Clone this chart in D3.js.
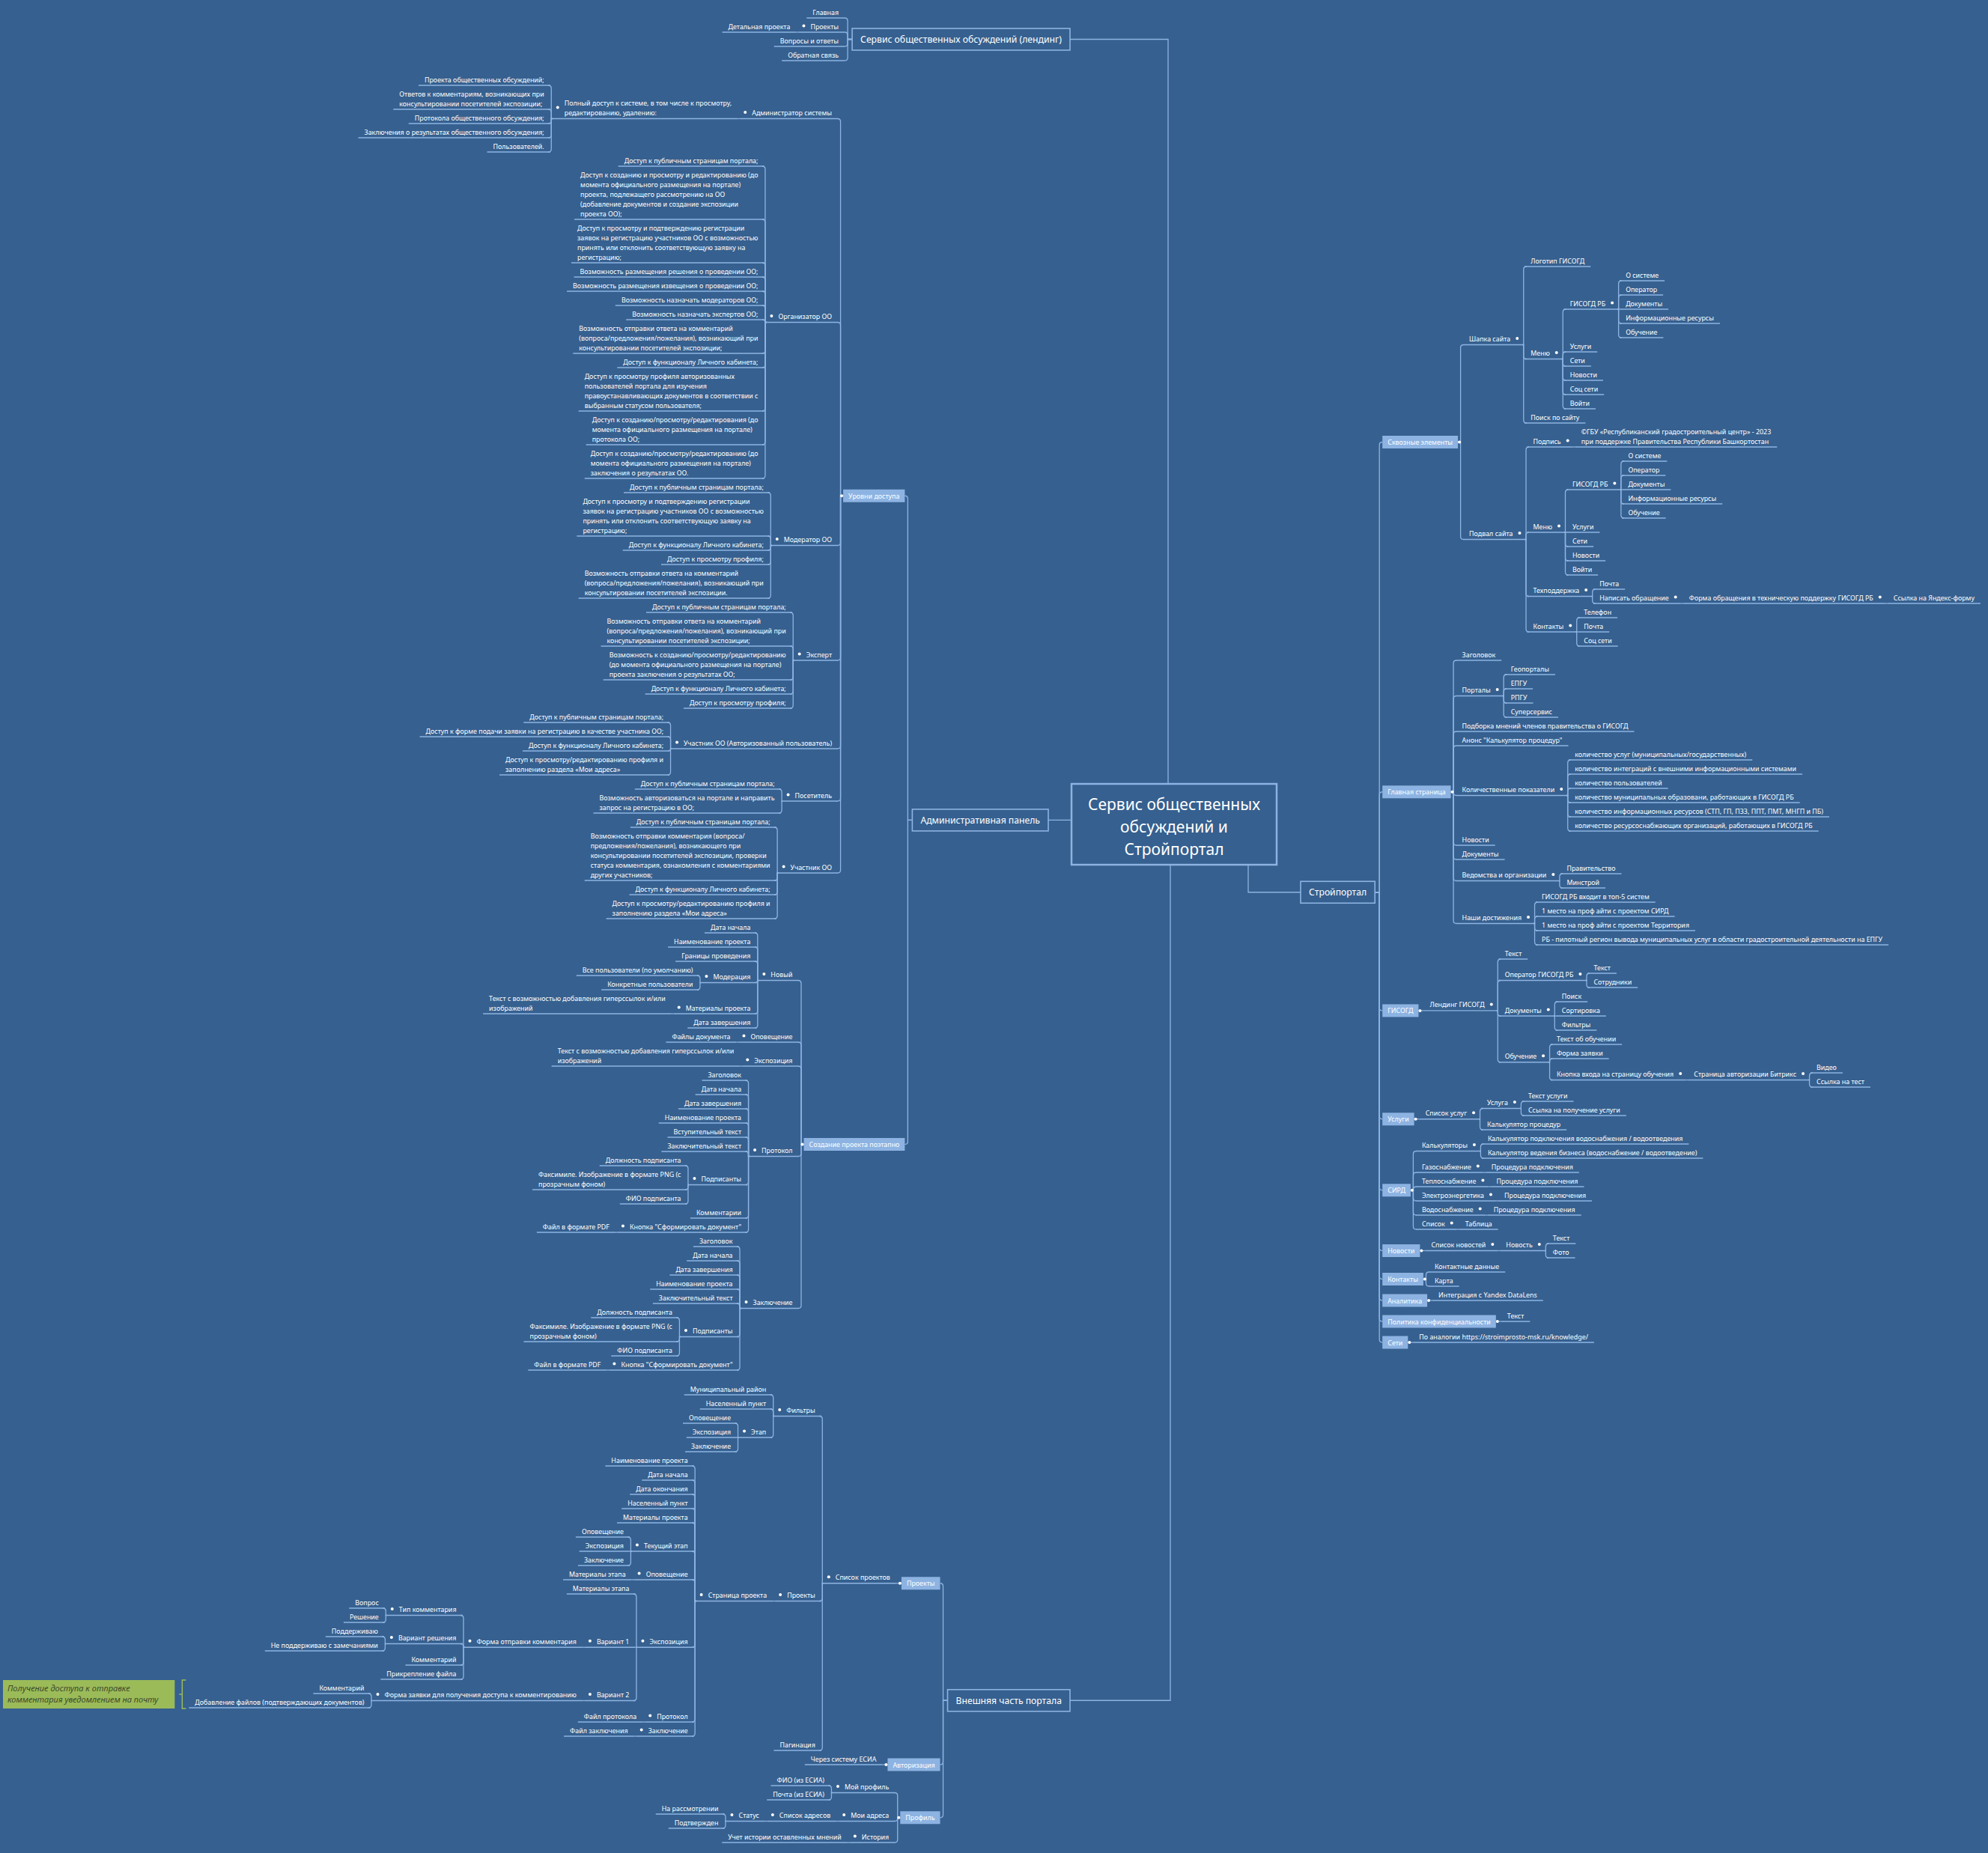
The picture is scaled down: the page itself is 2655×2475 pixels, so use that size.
<!DOCTYPE html>
<html>
<head>
<meta charset="utf-8">
<script src="https://cdn.jsdelivr.net/npm/d3@7"></script>
<style>body{margin:0;background:#36608f}</style>
</head>
<body>
<div id="container"></div>
<script>
let w = 2655;
let h = 2475;

// ---- data: the mind map branches ----
let rootTitle = ["Сервис общественных", "обсуждений и", "Стройпортал"];

let landing = ["Сервис общественных обсуждений (лендинг)", [
  ["Главная"],
  ["Проекты", [["Детальная проекта"]]],
  ["Вопросы и ответы"],
  ["Обратная связь"]
]];

let accessLevels = ["Уровни доступа", [
  ["Администратор системы", [
    ["Полный доступ к системе, в том числе к просмотру,\nредактированию, удалению:", [
      ["Проекта общественных обсуждений;"],
      ["Ответов к комментариям, возникающих при\nконсультировании посетителей экспозиции;"],
      ["Протокола общественного обсуждения;"],
      ["Заключения о результатах общественного обсуждения;"],
      ["Пользователей."]
    ]]
  ]],
  ["Организатор ОО", [
    ["Доступ к публичным страницам портала;"],
    ["Доступ к созданию и просмотру и редактированию (до\nмомента официального размещения на портале)\nпроекта, подлежащего рассмотрению на ОО\n(добавление документов и создание экспозиции\nпроекта ОО);"],
    ["Доступ к просмотру и подтверждению регистрации\nзаявок на регистрацию участников ОО с возможностью\nпринять или отклонить соответствующую заявку на\nрегистрацию;"],
    ["Возможность размещения решения о проведении ОО;"],
    ["Возможность размещения извещения о проведении ОО;"],
    ["Возможность назначать модераторов ОО;"],
    ["Возможность назначать экспертов ОО;"],
    ["Возможность отправки ответа на комментарий\n(вопроса/предложения/пожелания), возникающий при\nконсультировании посетителей экспозиции;"],
    ["Доступ к функционалу Личного кабинета;"],
    ["Доступ к просмотру профиля авторизованных\nпользователей портала для изучения\nправоустанавливающих документов в соответствии с\nвыбранным статусом пользователя;"],
    ["Доступ к созданию/просмотру/редактирования (до\nмомента официального размещения на портале)\nпротокола ОО;"],
    ["Доступ к созданию/просмотру/редактированию (до\nмомента официального размещения на портале)\nзаключения о результатах ОО."]
  ]],
  ["Модератор ОО", [
    ["Доступ к публичным страницам портала;"],
    ["Доступ к просмотру и подтверждению регистрации\nзаявок на регистрацию участников ОО с возможностью\nпринять или отклонить соответствующую заявку на\nрегистрацию;"],
    ["Доступ к функционалу Личного кабинета;"],
    ["Доступ к просмотру профиля;"],
    ["Возможность отправки ответа на комментарий\n(вопроса/предложения/пожелания), возникающий при\nконсультировании посетителей экспозиции."]
  ]],
  ["Эксперт", [
    ["Доступ к публичным страницам портала;"],
    ["Возможность отправки ответа на комментарий\n(вопроса/предложения/пожелания), возникающий при\nконсультировании посетителей экспозиции;"],
    ["Возможность к созданию/просмотру/редактированию\n(до момента официального размещения на портале)\nпроекта заключения о результатах ОО;"],
    ["Доступ к функционалу Личного кабинета;"],
    ["Доступ к просмотру профиля;"]
  ]],
  ["Участник ОО (Авторизованный пользователь)", [
    ["Доступ к публичным страницам портала;"],
    ["Доступ к форме подачи заявки на регистрацию в качестве участника ОО;"],
    ["Доступ к функционалу Личного кабинета;"],
    ["Доступ к просмотру/редактированию профиля и\nзаполнению раздела «Мои адреса»"]
  ]],
  ["Посетитель", [
    ["Доступ к публичным страницам портала;"],
    ["Возможность авторизоваться на портале и направить\nзапрос на регистрацию в ОО;"]
  ]],
  ["Участник ОО", [
    ["Доступ к публичным страницам портала;"],
    ["Возможность отправки комментария (вопроса/\nпредложения/пожелания), возникающего при\nконсультировании посетителей экспозиции, проверки\nстатуса комментария, ознакомления с комментариями\nдругих участников;"],
    ["Доступ к функционалу Личного кабинета;"],
    ["Доступ к просмотру/редактированию профиля и\nзаполнению раздела «Мои адреса»"]
  ]]
]];

let creation = ["Создание проекта поэтапно", [
  ["Новый", [
    ["Дата начала"],
    ["Наименование проекта"],
    ["Границы проведения"],
    ["Модерация", [["Все пользователи (по умолчанию)"], ["Конкретные пользователи"]]],
    ["Материалы проекта", [["Текст с возможностью добавления гиперссылок и/или\nизображений"]]],
    ["Дата завершения"]
  ]],
  ["Оповещение", [["Файлы документа"]]],
  ["Экспозиция", [["Текст с возможностью добавления гиперссылок и/или\nизображений"]]],
  ["Протокол", [
    ["Заголовок"], ["Дата начала"], ["Дата завершения"], ["Наименование проекта"],
    ["Вступительный текст"], ["Заключительный текст"],
    ["Подписанты", [["Должность подписанта"], ["Факсимиле. Изображение в формате PNG (с\nпрозрачным фоном)"], ["ФИО подписанта"]]],
    ["Комментарии"],
    ["Кнопка \"Сформировать документ\"", [["Файл в формате PDF"]]]
  ]],
  ["Заключение", [
    ["Заголовок"], ["Дата начала"], ["Дата завершения"], ["Наименование проекта"],
    ["Заключительный текст"],
    ["Подписанты", [["Должность подписанта"], ["Факсимиле. Изображение в формате PNG (с\nпрозрачным фоном)"], ["ФИО подписанта"]]],
    ["Кнопка \"Сформировать документ\"", [["Файл в формате PDF"]]]
  ]]
]];

let adminPanel = ["Административная панель", [accessLevels, creation]];

let projectsBranch = ["Проекты", [
  ["Список проектов", [
    ["Фильтры", [
      ["Муниципальный район"], ["Населенный пункт"],
      ["Этап", [["Оповещение"], ["Экспозиция"], ["Заключение"]]]
    ]],
    ["Проекты", [
      ["Страница проекта", [
        ["Наименование проекта"], ["Дата начала"], ["Дата окончания"], ["Населенный пункт"], ["Материалы проекта"],
        ["Текущий этап", [["Оповещение"], ["Экспозиция"], ["Заключение"]]],
        ["Оповещение", [["Материалы этапа"]]],
        ["Экспозиция", [
          ["Материалы этапа"],
          ["Вариант 1", [["Форма отправки комментария", [
            ["Тип комментария", [["Вопрос"], ["Решение"]]],
            ["Вариант решения", [["Поддерживаю"], ["Не поддерживаю с замечаниями"]]],
            ["Комментарий"],
            ["Прикрепление файла"]
          ]]]],
          ["Вариант 2", [["Форма заявки для получения доступа к комментированию", [
            ["Комментарий"], ["Добавление файлов (подтверждающих документов)"]
          ]]]]
        ]],
        ["Протокол", [["Файл протокола"]]],
        ["Заключение", [["Файл заключения"]]]
      ]]
    ]],
    ["Пагинация"]
  ]]
]];

let externalPart = ["Внешняя часть портала", [
  projectsBranch,
  ["Авторизация", [["Через систему ЕСИА"]]],
  ["Профиль", [
    ["Мой профиль", [["ФИО (из ЕСИА)"], ["Почта (из ЕСИА)"]]],
    ["Мои адреса", [["Список адресов", [["Статус", [["На рассмотрении"], ["Подтвержден"]]]]]]],
    ["История", [["Учет истории оставленных мнений"]]]
  ]]
]];

let gisogdMenu = [["О системе"], ["Оператор"], ["Документы"], ["Информационные ресурсы"], ["Обучение"]];

let stroiportal = ["Стройпортал", [
  ["Сквозные элементы", [
    ["Шапка сайта", [
      ["Логотип ГИСОГД"],
      ["Меню", [["ГИСОГД РБ", gisogdMenu], ["Услуги"], ["Сети"], ["Новости"], ["Соц сети"], ["Войти"]]],
      ["Поиск по сайту"]
    ]],
    ["Подвал сайта", [
      ["Подпись", [["©ГБУ «Республиканский градостроительный центр» - 2023\nпри поддержке Правительства Республики Башкортостан"]]],
      ["Меню", [["ГИСОГД РБ", gisogdMenu], ["Услуги"], ["Сети"], ["Новости"], ["Войти"]]],
      ["Техподдержка", [["Почта"], ["Написать обращение", [["Форма обращения в техническую поддержку ГИСОГД РБ", [["Ссылка на Яндекс-форму"]]]]]]],
      ["Контакты", [["Телефон"], ["Почта"], ["Соц сети"]]]
    ]]
  ]],
  ["Главная страница", [
    ["Заголовок"],
    ["Порталы", [["Геопорталы"], ["ЕПГУ"], ["РПГУ"], ["Суперсервис"]]],
    ["Подборка мнений членов правительства о ГИСОГД"],
    ["Анонс \"Калькулятор процедур\""],
    ["Количественные показатели", [
      ["количество услуг (муниципальных/государственных)"],
      ["количество интеграций с внешними информационными системами"],
      ["количество пользователей"],
      ["количество муниципальных образовани, работающих в ГИСОГД РБ"],
      ["количество информационных ресурсов (СТП, ГП, ПЗЗ, ППТ, ПМТ, МНГП и ПБ)"],
      ["количество ресурсоснабжающих организаций, работающих в ГИСОГД РБ"]
    ]],
    ["Новости"],
    ["Документы"],
    ["Ведомства и организации", [["Правительство"], ["Минстрой"]]],
    ["Наши достижения", [
      ["ГИСОГД РБ входит в топ-5 систем"],
      ["1 место на проф айти с проектом СИРД"],
      ["1 место на проф айти с проектом Территория"],
      ["РБ - пилотный регион вывода муниципальных услуг в области градостроительной деятельности на ЕПГУ"]
    ]]
  ]],
  ["ГИСОГД", [["Лендинг ГИСОГД", [
    ["Текст"],
    ["Оператор ГИСОГД РБ", [["Текст"], ["Сотрудники"]]],
    ["Документы", [["Поиск"], ["Сортировка"], ["Фильтры"]]],
    ["Обучение", [
      ["Текст об обучении"], ["Форма заявки"],
      ["Кнопка входа на страницу обучения", [["Страница авторизации Битрикс", [["Видео"], ["Ссылка на тест"]]]]]
    ]]
  ]]]],
  ["Услуги", [["Список услуг", [
    ["Услуга", [["Текст услуги"], ["Ссылка на получение услуги"]]],
    ["Калькулятор процедур"]
  ]]]],
  ["СИРД", [
    ["Калькуляторы", [["Калькулятор подключения водоснабжения / водоотведения"], ["Калькулятор ведения бизнеса (водоснабжение / водоотведение)"]]],
    ["Газоснабжение", [["Процедура подключения"]]],
    ["Теплоснабжение", [["Процедура подключения"]]],
    ["Электроэнергетика", [["Процедура подключения"]]],
    ["Водоснабжение", [["Процедура подключения"]]],
    ["Список", [["Таблица"]]]
  ]],
  ["Новости", [["Список новостей", [["Новость", [["Текст"], ["Фото"]]]]]]],
  ["Контакты", [["Контактные данные"], ["Карта"]]],
  ["Аналитика", [["Интеграция с Yandex DataLens"]]],
  ["Политика конфиденциальности", [["Текст"]]],
  ["Сети", [["По аналогии https://stroimprosto-msk.ru/knowledge/"]]]
]];

let calloutText = ["Получение доступа к отправке", "комментария уведомлением на почту"];

// ---- styles ----
let bg = "#36608f", lineColor = "#8eb4e3", fillColor = "#8db3e2";
let FONT = "'Noto Sans', 'DejaVu Sans', sans-serif";

let viz = d3.select("#container").append("svg")
  .attr("width", w).attr("height", h)
  .style("background-color", bg);

let probe = viz.append("text").style("font-family", FONT);
function textW(s, size) { probe.style("font-size", size + "px").text(s); return probe.node().getComputedTextLength(); }
let fs = 10 * 179 / textW("Доступ к публичным страницам портала;", 10);
let fsMain = 12.2;

function build(a) { return { name: a[0], children: a[1] ? a[1].map(build) : undefined }; }

function prepare(data, side) {
  let b = d3.hierarchy(build(data));
  b.each(n => {
    n.side = side;
    n.lines = n.data.name.split("\n");
    n.kind = n.depth === 0 ? "main" : (n.depth === 1 && data !== landing ? "fill" : "plain");
    let size = n.kind === "main" ? fsMain : fs;
    n.tw = d3.max(n.lines, l => textW(l, size));
    if (n.kind === "main") { n.w = n.tw + 22; n.top = -15; n.bot = 15; n.gap = 10; }
    else if (n.kind === "fill") { n.w = n.tw + 14; n.top = -11; n.bot = 10; n.gap = 7; }
    else { n.w = n.tw + (n.children ? 24 : 16); n.top = -(n.lines.length * 13 + 5); n.bot = 1; n.gap = 3; }
  });
  layV(b);
  return b;
}

function layV(n) {
  if (!n.children) { n.ext = [n.top, n.bot]; return; }
  n.children.forEach(layV);
  let off = [0];
  for (let i = 1; i < n.children.length; i++)
    off[i] = off[i - 1] + n.children[i - 1].ext[1] - n.children[i].ext[0];
  let mid = (off[0] + off[off.length - 1]) / 2;
  n.children.forEach((c, i) => c.rel = off[i] - mid);
  let f = n.children[0], l = n.children[n.children.length - 1];
  n.ext = [Math.min(n.top, f.rel + f.ext[0]), Math.max(n.bot, l.rel + l.ext[1])];
}

function place(n, y, xEdge) {
  n.y = y;
  if (n.side > 0) { n.x0 = xEdge; n.x1 = xEdge + n.w; }
  else { n.x1 = xEdge; n.x0 = xEdge - n.w; }
  if (n.children) n.children.forEach(c =>
    place(c, y + c.rel, n.side > 0 ? n.x1 + n.gap : n.x0 - n.gap));
}

let links = viz.append("g").attr("fill", "none").attr("stroke", lineColor).attr("stroke-width", 1.3);
let nodesG = viz.append("g");

function draw(b) {
  b.each(n => {
    if (n.children) {
      let s = n.side;
      let ex = s > 0 ? n.x1 : n.x0;
      n.children.forEach(c => {
        let cx = s > 0 ? c.x0 : c.x1;
        let vx = cx - s * Math.min(4, n.gap / 2);
        let dy = c.y - n.y, r = Math.min(4, Math.abs(dy));
        let sg = dy >= 0 ? 1 : -1;
        links.append("path").attr("d",
          "M" + ex + "," + n.y + " H" + vx + " V" + (c.y - sg * r) +
          " Q" + vx + "," + c.y + " " + (vx + s * r) + "," + c.y + " H" + cx);
      });
    }
    let g = nodesG.append("g");
    if (n.kind === "main") {
      g.append("rect").attr("x", n.x0).attr("y", n.y - 14.5).attr("width", n.w).attr("height", 29)
        .attr("fill", bg).attr("stroke", fillColor).attr("stroke-width", 1.6);
      g.append("text").attr("x", (n.x0 + n.x1) / 2).attr("y", n.y + 4.5).attr("text-anchor", "middle")
        .style("font-family", FONT).style("font-size", fsMain + "px").attr("fill", "#fff").text(n.lines[0]);
    } else if (n.kind === "fill") {
      g.append("rect").attr("x", n.x0).attr("y", n.y - 8.5).attr("width", n.w).attr("height", 17).attr("fill", fillColor);
      g.append("text").attr("x", n.x0 + 7).attr("y", n.y + 3.5)
        .style("font-family", FONT).style("font-size", fs + "px").attr("fill", "#fff").text(n.lines[0]);
      if (n.children) g.append("circle").attr("cx", n.side > 0 ? n.x1 + 2 : n.x0 - 2).attr("cy", n.y).attr("r", 2).attr("fill", "#fff");
    } else {
      g.append("line").attr("x1", n.x0).attr("x2", n.x1).attr("y1", n.y).attr("y2", n.y)
        .attr("stroke", lineColor).attr("stroke-width", 1.3);
      let tx = n.side > 0 ? n.x0 + 8 : (n.children ? n.x0 + 16 : n.x0 + 8);
      let k = n.lines.length;
      n.lines.forEach((l, i) => g.append("text").attr("x", tx).attr("y", n.y - 4.5 - (k - 1 - i) * 13)
        .style("font-family", FONT).style("font-size", fs + "px").attr("fill", "#fff").text(l));
      if (n.children) {
        let dx = n.side > 0 ? n.x0 + 8 + n.tw + 9 : n.x0 + 7;
        g.append("circle").attr("cx", dx).attr("cy", n.y - 4.5 - (k - 1) * 6.5 - 4).attr("r", 2).attr("fill", "#fff");
      }
    }
  });
}

// ---- root ----
let rootBox = { x0: 1431, x1: 1705, y0: 1047, y1: 1155 };
let rootCx = (rootBox.x0 + rootBox.x1) / 2;
viz.append("rect").attr("x", rootBox.x0).attr("y", rootBox.y0)
  .attr("width", rootBox.x1 - rootBox.x0).attr("height", rootBox.y1 - rootBox.y0)
  .attr("fill", bg).attr("stroke", fillColor).attr("stroke-width", 2.5);
rootTitle.forEach((t, i) => viz.append("text").attr("x", rootCx).attr("y", 1082 + i * 30)
  .attr("text-anchor", "middle").style("font-family", FONT).style("font-size", "21px").attr("fill", "#fff").text(t));

// left branches stacked top to bottom
let leftBranches = [landing, adminPanel, externalPart].map(d => prepare(d, -1));
let cursor = 6;
leftBranches.forEach((b, i) => {
  let y = cursor - b.ext[0];
  place(b, y, i === 1 ? rootBox.x0 - 31 : rootBox.x0 - 2);
  cursor = y + b.ext[1] + 14;
});
let rightBranch = prepare(stroiportal, 1);
place(rightBranch, 338 - rightBranch.ext[0], 1737);

// root connectors
let [lb, ab, eb] = leftBranches;
links.append("path").attr("d", "M1560," + rootBox.y0 + " V" + lb.y + " H" + lb.x1);
links.append("path").attr("d", "M" + rootBox.x0 + "," + ab.y + " H" + ab.x1);
links.append("path").attr("d", "M1563," + rootBox.y1 + " V" + eb.y + " H" + eb.x1);
links.append("path").attr("d", "M1667," + rootBox.y1 + " V" + rightBranch.y + " H" + rightBranch.x0);

leftBranches.forEach(draw);
draw(rightBranch);

// callout on the access-request form
let target = eb.descendants().find(n => n.data.name.startsWith("Добавление файлов"));
let grp = target.parent.children;
let gTop = d3.min(grp, n => n.y + n.top), gBot = d3.max(grp, n => n.y + n.bot);
let bx = d3.min(grp, n => n.x0) - 9;
viz.append("path").attr("d", "M" + (bx + 5) + "," + gTop + " H" + bx + " V" + gBot + " H" + (bx + 5) +
  " M" + bx + "," + (gTop + gBot) / 2 + " H" + (bx - 4))
  .attr("fill", "none").attr("stroke", "#9bbb59").attr("stroke-width", 1.5);
let cy = (gTop + gBot) / 2;
let boxX = Math.max(4, bx - 242);
viz.append("rect").attr("x", boxX).attr("y", cy - 19).attr("width", bx - 10 - boxX).attr("height", 38).attr("fill", "#9bbb59");
calloutText.forEach((t, i) => viz.append("text").attr("x", boxX + 6).attr("y", cy - 4 + i * 15)
  .style("font-family", FONT).style("font-size", "11px").style("font-style", "italic").attr("fill", "#3d4a2a").text(t));

probe.remove();
</script>
</body>
</html>
